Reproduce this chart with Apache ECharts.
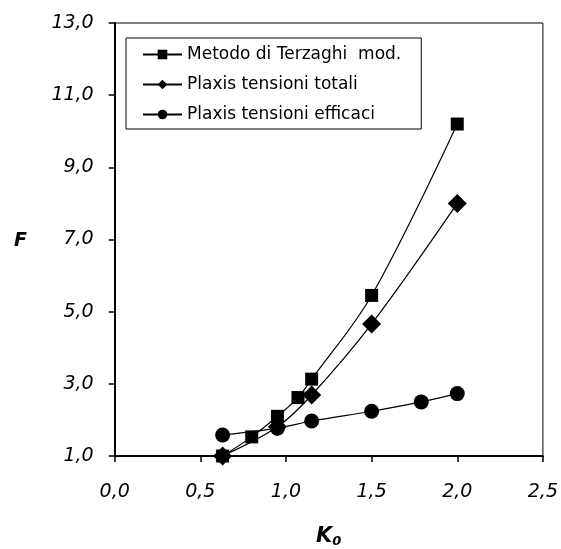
<!DOCTYPE html>
<html>
<head>
<meta charset="utf-8">
<script src="https://cdn.jsdelivr.net/npm/echarts@6/dist/echarts.min.js"></script>
<style>
html,body{margin:0;padding:0;background:#fff;}
#chart{width:561px;height:549px;}
</style>
</head>
<body>
<div id="chart"></div>
<script>
const seriesNames = ['Metodo di Terzaghi  mod.', 'Plaxis tensioni totali', 'Plaxis tensioni efficaci'];
const terzaghiK0 = [0.63, 0.8, 0.95, 1.07, 1.15, 1.5, 2.0];
const terzaghiF  = [1.0, 1.53, 2.1, 2.62, 3.13, 5.45, 10.2];
const totaliK0   = [0.63, 0.95, 1.15, 1.5, 2.0];
const totaliF    = [1.0, 1.81, 2.69, 4.66, 8.0];
const efficaciK0 = [0.63, 0.95, 1.15, 1.5, 1.79, 2.0];
const efficaciF  = [1.58, 1.77, 1.97, 2.24, 2.5, 2.73];
const xTicks = [0, 0.5, 1.0, 1.5, 2.0, 2.5];
const yTicks = [1, 3, 5, 7, 9, 11, 13];

const pairs = (xs, ys) => xs.map((x, i) => [x, ys[i]]);
const fmt = v => v.toFixed(1).replace('.', ',');

const chart = echarts.init(document.getElementById('chart'), null, {renderer: 'canvas'});
const lineStyle = {color: '#000', width: 1.2};
chart.setOption({
  animation: false,
  backgroundColor: '#fff',
  grid: {left: 114.7, right: 17, top: 23, bottom: 93, show: true, borderColor: '#000', borderWidth: 1},
  xAxis: {
    type: 'value', min: xTicks[0], max: xTicks[xTicks.length - 1], interval: 0.5,
    axisLine: {show: true, lineStyle: {color: '#000', width: 2}},
    axisTick: {show: true, length: 6, lineStyle: {color: '#000', width: 1.5}},
    splitLine: {show: false},
    axisLabel: {margin: 27, color: '#000', fontFamily: 'DejaVu Sans', fontStyle: 'italic', fontSize: 19, formatter: fmt}
  },
  yAxis: {
    type: 'value', min: yTicks[0], max: yTicks[yTicks.length - 1], interval: 2,
    axisLine: {show: true, lineStyle: {color: '#000', width: 2}},
    axisTick: {show: true, length: 6, lineStyle: {color: '#000', width: 1.5}},
    splitLine: {show: false},
    axisLabel: {margin: 21, color: '#000', fontFamily: 'DejaVu Sans', fontStyle: 'italic', fontSize: 19, formatter: fmt}
  },
  legend: {
    orient: 'vertical', left: 126, top: 38,
    padding: [8, 20, 6, 16], itemGap: 13, itemWidth: 39, itemHeight: 12,
    borderColor: '#000', borderWidth: 1, backgroundColor: '#fff',
    textStyle: {color: '#000', fontFamily: 'DejaVu Sans', fontSize: 17, lineHeight: 14},
    data: seriesNames
  },
  graphic: [
    {type: 'text', left: 14, top: 232, style: {text: 'F', fontFamily: 'DejaVu Sans', fontStyle: 'italic', fontWeight: 'bold', fontSize: 19, fill: '#000'}},
    {type: 'text', left: 316, top: 526, style: {
      text: '{k|K}{s|0}', fill: '#000',
      rich: {
        k: {fontFamily: 'DejaVu Sans', fontStyle: 'italic', fontWeight: 'bold', fontSize: 21, fill: '#000'},
        s: {fontFamily: 'DejaVu Sans', fontStyle: 'italic', fontWeight: 'bold', fontSize: 13, fill: '#000', verticalAlign: 'bottom', padding: [10, 0, 0, 0]}
      }
    }}
  ],
  series: [
    {name: seriesNames[0], type: 'line', data: pairs(terzaghiK0, terzaghiF), smooth: 0.35,
     symbol: 'rect', symbolSize: 13, lineStyle, itemStyle: {color: '#000'}},
    {name: seriesNames[1], type: 'line', data: pairs(totaliK0, totaliF), smooth: 0.35,
     symbol: 'diamond', symbolSize: 19, lineStyle, itemStyle: {color: '#000'}},
    {name: seriesNames[2], type: 'line', data: pairs(efficaciK0, efficaciF), smooth: 0.35,
     symbol: 'circle', symbolSize: 15, lineStyle, itemStyle: {color: '#000'}}
  ]
});
</script>
</body>
</html>
